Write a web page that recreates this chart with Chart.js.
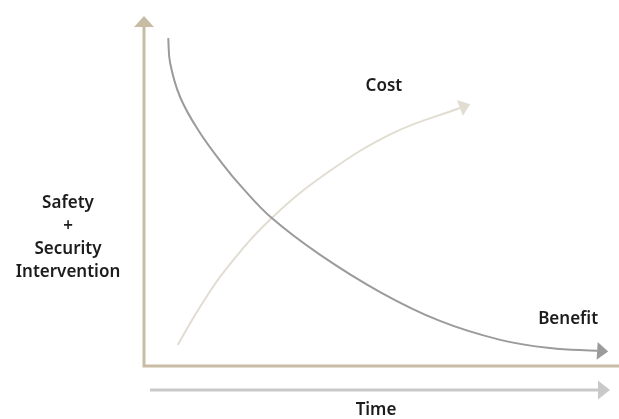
<!DOCTYPE html>
<html>
<head>
<meta charset="utf-8">
<script src="https://cdn.jsdelivr.net/npm/chart.js@4/dist/chart.umd.min.js"></script>
<style>
  html, body { margin: 0; padding: 0; background: #fff; }
  #wrap { width: 619px; height: 419px; }
</style>
</head>
<body>
<div id="wrap"><canvas id="chart"></canvas></div>
<script>
// time runs 0..100 along x, intervention level 0..100 up y
const benefitTime = [5.1, 5.5, 7.6, 11.4, 16.4, 20.6, 26.9, 37.1, 49.7, 62.3, 75.0, 85.5, 95.4];
const benefitLevel = [95.3, 88.1, 78.2, 68.6, 59.0, 52.0, 43.0, 32.3, 21.5, 13.1, 7.6, 5.2, 4.4];
const costTime = [7.1, 11.4, 17.1, 26.9, 38.5, 52.4, 66.5];
const costLevel = [6.1, 16.3, 27.9, 43.0, 56.1, 67.7, 75.0];
const yLabelLines = ['Safety', '+', 'Security', 'Intervention'];

const axisColor = '#c8bca6';
const timeColor = '#c9c9c9';
const benefitColor = '#9b9b9b';
const costColor = '#e2ddd2';
const textColor = '#1c1c1c';
const font = '600 17px "Noto Sans"';

function toPoints(xs, ys) {
  return xs.map((x, i) => ({ x: x, y: ys[i] }));
}

function arrowHead(ctx, fromX, fromY, toX, toY, len, half, color) {
  const ang = Math.atan2(toY - fromY, toX - fromX);
  const tipX = toX + Math.cos(ang) * len;
  const tipY = toY + Math.sin(ang) * len;
  ctx.save();
  ctx.fillStyle = color;
  ctx.beginPath();
  ctx.moveTo(tipX, tipY);
  ctx.lineTo(toX - Math.sin(ang) * half, toY + Math.cos(ang) * half);
  ctx.lineTo(toX + Math.sin(ang) * half, toY - Math.cos(ang) * half);
  ctx.closePath();
  ctx.fill();
  ctx.restore();
}

// axes, arrows and labels
const decorations = {
  id: 'decorations',
  beforeDatasetsDraw(chart) {
    const { ctx, chartArea } = chart;
    const { left, right, top, bottom } = chartArea;
    ctx.save();
    ctx.strokeStyle = axisColor;
    ctx.lineWidth = 3;
    ctx.beginPath();
    ctx.moveTo(left, top + 4);
    ctx.lineTo(left, bottom);
    ctx.lineTo(right, bottom);
    ctx.stroke();
    arrowHead(ctx, left, top + 10, left, top + 5, 11, 10, axisColor);

    // time arrow under the chart
    ctx.strokeStyle = timeColor;
    ctx.beginPath();
    ctx.moveTo(left + 6, bottom + 24);
    ctx.lineTo(right - 21, bottom + 24);
    ctx.stroke();
    arrowHead(ctx, right - 30, bottom + 24, right - 21, bottom + 24, 12, 9.5, timeColor);

    ctx.fillStyle = textColor;
    ctx.font = font;
    ctx.textAlign = 'center';
    ctx.textBaseline = 'middle';
    ctx.fillText('Time', left + 232, bottom + 44);
    yLabelLines.forEach((line, i) => {
      ctx.fillText(line, 68, 203 + i * 23);
    });
    ctx.restore();
  },
  afterDatasetsDraw(chart) {
    const { ctx } = chart;
    chart.data.datasets.forEach((ds, i) => {
      const pts = chart.getDatasetMeta(i).data;
      const a = pts[pts.length - 2];
      const b = pts[pts.length - 1];
      arrowHead(ctx, a.x, a.y, b.x, b.y, ds.headLen, ds.headHalf, ds.borderColor);
      ctx.save();
      ctx.fillStyle = textColor;
      ctx.font = font;
      ctx.textAlign = 'center';
      ctx.textBaseline = 'middle';
      ctx.fillText(ds.label, b.x + ds.labelDx, b.y + ds.labelDy);
      ctx.restore();
    });
  }
};

new Chart(document.getElementById('chart'), {
  type: 'scatter',
  data: {
    datasets: [
      {
        label: 'Benefit',
        data: toPoints(benefitTime, benefitLevel),
        borderColor: benefitColor,
        borderWidth: 2,
        showLine: true,
        pointRadius: 0,
        tension: 0.4,
        headLen: 11, headHalf: 9, labelDx: -29, labelDy: -32
      },
      {
        label: 'Cost',
        data: toPoints(costTime, costLevel),
        borderColor: costColor,
        borderWidth: 2,
        showLine: true,
        pointRadius: 0,
        tension: 0.4,
        headLen: 11, headHalf: 8.5, labelDx: -76, labelDy: -22
      }
    ]
  },
  options: {
    responsive: true,
    maintainAspectRatio: false,
    animation: false,
    layout: { padding: { left: 144, top: 22, right: 0, bottom: 53 } },
    scales: {
      x: { type: 'linear', min: 0, max: 100, display: false },
      y: { type: 'linear', min: 0, max: 100, display: false }
    },
    plugins: {
      legend: { display: false },
      tooltip: { enabled: false }
    }
  },
  plugins: [decorations]
});
</script>
</body>
</html>
